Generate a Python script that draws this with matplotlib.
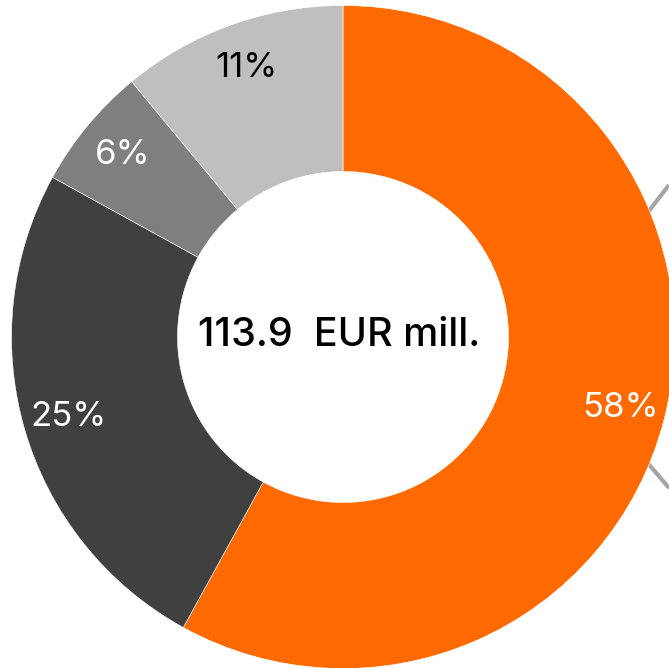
import matplotlib
matplotlib.use("Agg")
from matplotlib import pyplot as plt

plt.rcParams['font.family'] = ['Inter', 'DejaVu Sans']

shares = [58, 25, 6, 11]
colours = ['#FF6A00', '#404040', '#7F7F7F', '#BFBFBF']
label_colours = ['white', 'white', 'white', 'black']
total = 113.9
unit = 'EUR mill.'

fig = plt.figure(figsize=(6.69, 6.68), dpi=100)
ax = fig.add_axes([0, 0, 1, 1])
ax.set_xlim(0, 669)
ax.set_ylim(0, 668)
ax.set_aspect('equal')
ax.axis('off')

cx, cy, r = 343, 331, 331.5

# leader lines going off to the right
ax.plot([600, 669], [668 - 274, 668 - 185], color='#A6A6A6', lw=3, zorder=0, solid_capstyle='butt')
ax.plot([600, 669], [668 - 407, 668 - 488], color='#A6A6A6', lw=3, zorder=0, solid_capstyle='butt')

wedges, texts, autotexts = ax.pie(
    shares, colors=colours, startangle=90, counterclock=False,
    center=(cx, cy), radius=r, autopct='%d%%', pctdistance=0.863,
    wedgeprops=dict(width=166, edgecolor='white', linewidth=0.4),
    textprops=dict(fontsize=25))
for t, c in zip(autotexts, label_colours):
    t.set_color(c)

ax.set_xlim(0, 669)
ax.set_ylim(0, 668)

ax.text(cx - 4, cy + 2, f'{total}  {unit}', ha='center', va='center',
        fontsize=28.5, fontweight='medium', color='black')

fig.savefig('out.png', dpi=100)
